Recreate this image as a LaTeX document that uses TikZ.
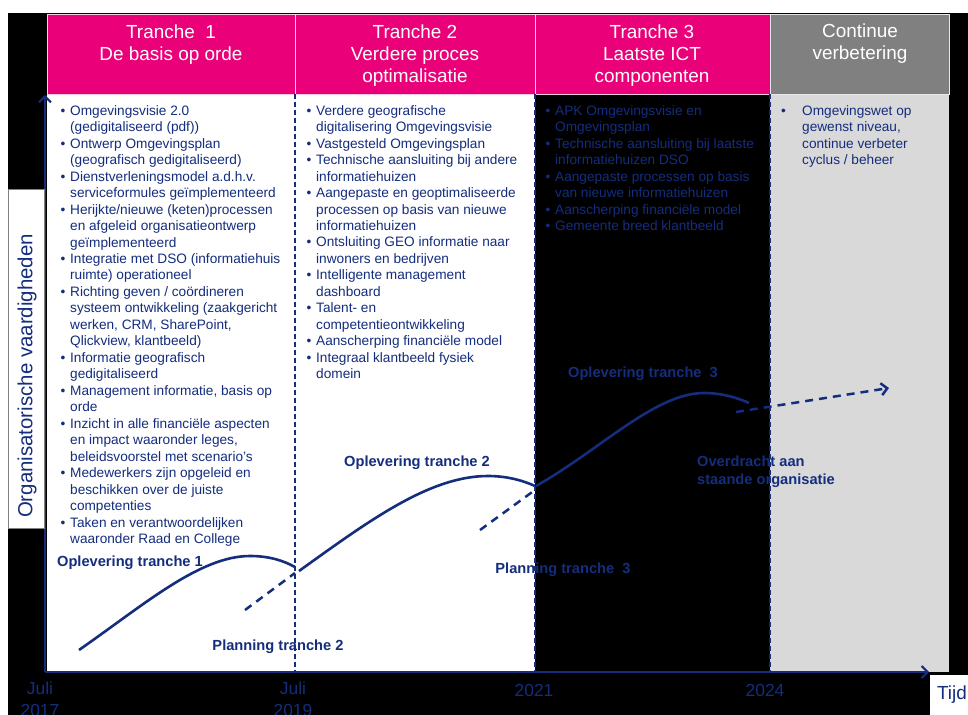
\documentclass[tikz,border=0pt]{standalone}
\usepackage{fontspec}
\setmainfont{Liberation Sans}
\usetikzlibrary{arrows.meta}
\definecolor{navy}{RGB}{20,45,125}
\definecolor{roze}{RGB}{234,0,120}
\definecolor{grijs}{RGB}{128,128,128}
\definecolor{lichtgrijs}{RGB}{217,217,217}
\newcommand{\opsom}{\makebox[9.5bp][l]{\textbullet}}
\newcommand{\inspring}{\hspace*{9.5bp}}

\begin{document}
\begin{tikzpicture}[x=1bp, y=-1bp,
    kop/.style={anchor=north, align=center, text=white, inner sep=0pt,
        font=\fontsize{19}{22}\selectfont},
    lijst/.style={anchor=north west, align=left, text=navy, inner sep=0pt,
        font=\fontsize{13.7}{16.55}\selectfont},
    mijlpaal/.style={text=navy, inner sep=0pt, align=left,
        font=\fontsize{14.7}{18}\selectfont\bfseries},
    jaar/.style={anchor=north, align=center, text=navy, inner sep=0pt,
        font=\fontsize{17.5}{22}\selectfont},
    lijn/.style={navy, line width=2.6bp},
    plan/.style={navy, line width=2.5bp, dash pattern=on 8bp off 6bp},
    grens/.style={navy, line width=1.2bp, dash pattern=on 5bp off 3bp},
    pijl/.style={navy, line width=2bp, -{Straight Barb[length=6bp,width=12bp]}}
]
    \useasboundingbox (0,0) rectangle (968,715);
    \fill[white] (0,0) rectangle (968,715);
    \fill[black] (8,13) rectangle (968,715);

    \fill[white] (47,94) rectangle (535,672);
    \fill[lichtgrijs] (770,94) rectangle (949,672);
    \filldraw[roze, draw=white!80!roze] (47,14) rectangle (295,94);
    \filldraw[roze, draw=white!80!roze] (295,14) rectangle (535,94);
    \filldraw[roze, draw=white!80!roze] (535,14) rectangle (770,94);
    \filldraw[grijs, draw=white!80!grijs] (770,14) rectangle (949,94);

    \node[kop] (k1) at (171,25) {Tranche\ \ 1\\De basis op orde};
    \node[kop] (k2) at (415,25) {Tranche 2\\Verdere proces\\optimalisatie};
    \node[kop] (k3) at (652,25) {Tranche 3\\Laatste ICT\\componenten};
    \node[kop] (k4) at (860,24) {Continue\\verbetering};

    \node[lijst] (t1) at (60.5,105) {\opsom Omgevingsvisie 2.0\\
        \inspring(gedigitaliseerd (pdf))\\
        \opsom Ontwerp Omgevingsplan\\
        \inspring(geografisch gedigitaliseerd)\\
        \opsom Dienstverleningsmodel a.d.h.v.\\
        \inspring serviceformules geïmplementeerd\\
        \opsom Herijkte/nieuwe (keten)processen\\
        \inspring en afgeleid organisatieontwerp\\
        \inspring geïmplementeerd\\
        \opsom Integratie met DSO (informatiehuis\\
        \inspring ruimte) operationeel\\
        \opsom Richting geven / coördineren\\
        \inspring systeem ontwikkeling (zaakgericht\\
        \inspring werken, CRM, SharePoint,\\
        \inspring Qlickview, klantbeeld)\\
        \opsom Informatie geografisch\\
        \inspring gedigitaliseerd\\
        \opsom Management informatie, basis op\\
        \inspring orde\\
        \opsom Inzicht in alle financiële aspecten\\
        \inspring en impact waaronder leges,\\
        \inspring beleidsvoorstel met scenario’s\\
        \opsom Medewerkers zijn opgeleid en\\
        \inspring beschikken over de juiste\\
        \inspring competenties\\
        \opsom Taken en verantwoordelijken\\
        \inspring waaronder Raad en College};
    \node[lijst] (t2) at (306.5,105) {\opsom Verdere geografische\\
        \inspring digitalisering Omgevingsvisie\\
        \opsom Vastgesteld Omgevingsplan\\
        \opsom Technische aansluiting bij andere\\
        \inspring informatiehuizen\\
        \opsom Aangepaste en geoptimaliseerde\\
        \inspring processen op basis van nieuwe\\
        \inspring informatiehuizen\\
        \opsom Ontsluiting GEO informatie naar\\
        \inspring inwoners en bedrijven\\
        \opsom Intelligente management\\
        \inspring dashboard\\
        \opsom Talent- en\\
        \inspring competentieontwikkeling\\
        \opsom Aanscherping financiële model\\
        \opsom Integraal klantbeeld fysiek\\
        \inspring domein};
    \node[lijst] (t3) at (545.5,105) {\opsom APK Omgevingsvisie en\\
        \inspring Omgevingsplan\\
        \opsom Technische aansluiting bij laatste\\
        \inspring informatiehuizen DSO\\
        \opsom Aangepaste processen op basis\\
        \inspring van nieuwe informatiehuizen\\
        \opsom Aanscherping financiële model\\
        \opsom Gemeente breed klantbeeld};
    \node[lijst] (t4) at (781,105) {\makebox[21bp][l]{\textbullet}Omgevingswet op\\
        \hspace*{21bp}gewenst niveau,\\
        \hspace*{21bp}continue verbeter\\
        \hspace*{21bp}cyclus / beheer};

    \draw[grens] (295,94) -- (295,672);
    \draw[grens] (535,94) -- (535,672);
    \draw[grens] (770,94) -- (770,672);

    \draw[lijn] (79,650) .. controls (145,604) and (200,556) .. (250,556)
        .. controls (270,556) and (284,561) .. (295,567);
    \draw[lijn] (299,571) .. controls (370,520) and (430,476) .. (488,476)
        .. controls (508,476) and (524,481) .. (535,486);
    \draw[lijn] (536,486) .. controls (600,450) and (655,393) .. (704,393)
        .. controls (722,393) and (738,398) .. (749,403);
    \draw[plan] (245,610) -- (295,573);
    \draw[plan] (480,530) -- (535,490);
    \draw[plan, -{Straight Barb[length=6bp,width=12bp]}] (736,412) -- (889,388);

    \node[mijlpaal] (o1) at (130,563) {Oplevering tranche 1};
    \node[mijlpaal] (p2) at (278,647) {Planning tranche 2};
    \node[mijlpaal] (o2) at (417,463) {Oplevering tranche 2};
    \node[mijlpaal] (p3) at (563,570) {Planning tranche\ \ 3};
    \node[mijlpaal] (o3) at (643,374) {Oplevering tranche\ \ 3};
    \node[mijlpaal, anchor=west] (ov) at (697,472) {Overdracht aan\\staande organisatie};

    \draw[pijl] (45,672) -- (45,95);
    \draw[pijl] (45,672) -- (929,672);

    \filldraw[white, draw=grijs] (8,189) rectangle (44,528);
    \node[rotate=90, text=navy, inner sep=0pt, font=\fontsize{20.5}{24}\selectfont]
        (yas) at (27,376) {Organisatorische vaardigheden};

    \node[jaar] (j17) at (40,682) {Juli\\2017};
    \node[jaar] (j19) at (293,682) {Juli\\2019};
    \node[jaar] (j21) at (534,684) {2021};
    \node[jaar] (j24) at (765,684) {2024};
    \fill[white] (930,675) rectangle (968,715);
    \node[text=navy, inner sep=0pt, font=\fontsize{19}{22}\selectfont]
        (tijd) at (952,695) {Tijd};
\end{tikzpicture}
\end{document}
